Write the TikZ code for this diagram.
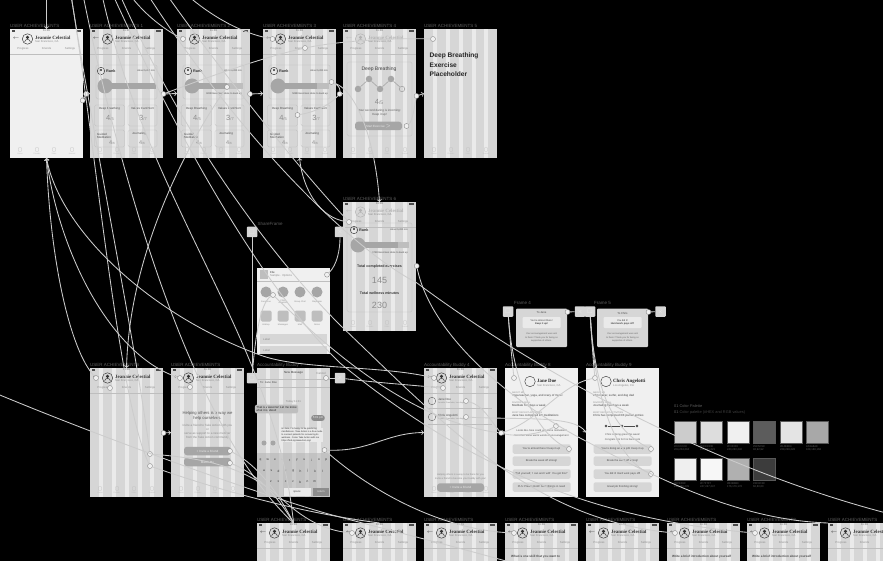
\documentclass[tikz,border=0pt]{standalone}
\usepackage{amssymb}
\usepackage{fontspec}
\setmainfont{Liberation Sans}
\newfontfamily\headfont{Liberation Serif}
\definecolor{wirecol}{HTML}{CCCCCC}
\definecolor{screencol}{HTML}{D6D6D6}
\definecolor{stripecol}{HTML}{EAEAEA}
\definecolor{plaincol}{HTML}{F0F0F0}
\definecolor{labelcol}{HTML}{5E5E5E}
\definecolor{txtcol}{HTML}{8C8C8C}
\definecolor{cardcol}{HTML}{BEBEBE}
\definecolor{darkcol}{HTML}{A6A6A6}
\tikzset{
	screen/.style={rectangle,anchor=north west,fill=screencol,minimum width=73pt,minimum height=129pt,inner sep=0pt,outer sep=0pt},
	framelabel/.style={anchor=south west,inner sep=0pt,text=labelcol,font=\fontsize{4.5}{5}\selectfont},
	tinytext/.style={inner sep=0pt,text=txtcol,font=\fontsize{2.8}{3.4}\selectfont,align=center},
	darktext/.style={inner sep=0pt,text=black!70,font=\fontsize{3}{3.9}\selectfont,align=left,anchor=west},
	valuetext/.style={inner sep=0pt,text=txtcol,font=\fontsize{7.5}{8}\selectfont},
	hottext/.style={inner sep=0pt,text=black!85,font=\headfont\bfseries\fontsize{4.9}{5}\selectfont,anchor=west},
	card/.style={rectangle,rounded corners=1.5pt,draw=cardcol,line width=.35pt},
	btn/.style={rectangle,rounded corners=3pt,fill=darkcol,inner sep=0pt,text=stripecol,font=\fontsize{3}{3.5}\selectfont,minimum width=47pt,minimum height=8.5pt},
	lightbtn/.style={rectangle,rounded corners=1.5pt,fill=screencol,inner sep=0pt,text=black!70,font=\fontsize{2.7}{3.2}\selectfont,minimum width=58pt,minimum height=9.5pt},
	hotspot/.style={circle,draw=gray,fill=plaincol,inner sep=0pt,minimum size=5pt,line width=.35pt},
	boxpt/.style={rectangle,rounded corners=.8pt,fill=screencol,inner sep=0pt,minimum size=10.5pt,text=stripecol,font=\fontsize{6}{6}\selectfont},
	wire/.style={draw=wirecol,line width=.85pt},
	swatch/.style={rectangle,anchor=north west,minimum size=21.5pt,inner sep=0pt,draw=gray!70!black,line width=.3pt},
	hexlabel/.style={anchor=north west,inner sep=0pt,text=labelcol,font=\fontsize{2.7}{3.4}\selectfont,align=left}
}
\newcommand{\hotpt}[3][]{\node[hotspot,#1] at (#2) (#3) {}}
\newcommand{\plainpt}[3]{\node[screen,fill=plaincol] at (#1) (#2) {}; \node[framelabel] at ([yshift=.8pt]#2.north west) (#2-label) {#3};}
\newcommand{\phonept}[3]{\node[screen] at (#1) (#2) {}; \node[framelabel] at ([yshift=.8pt]#2.north west) (#2-label) {#3}; \foreach \k in {9.3,22,35,48,60.3} {\fill[stripecol,shift={(#2.north west)}] (\k,0) rectangle +(3.5,129);}}
% status bar, header and tabs of one screen
\newcommand{\phonehead}[4][black!80]{
	\begin{scope}[shift={(#2.north west)}]
		\node[tinytext,text=black!60] (#2-time) at (36.5,2) {11:39};
		\fill[black!70] (66,1.2) rectangle (71,3);
		\fill[black!70] (1.5,1.2) rectangle (5,3);
		\node[inner sep=0pt,text=#1,font=\fontsize{5}{5}\selectfont] (#2-back) at (6,10) {$\leftarrow$};
		\node[circle,draw=#1,line width=.45pt,minimum size=10.5pt,inner sep=0pt] (#2-ava) at (17.5,10) {};
		\fill[#1] (17.5,8.4) circle (1.7pt);
		\draw[#1,line width=.45pt] (14.6,13.2) arc[start angle=180,end angle=0,radius=2.9pt];
		\node[hottext,text=#1] (#2-name) at (25,9) {#3};
		\node[tinytext,anchor=west] (#2-sub) at (25,13) {#4};
		\foreach \tx/\lab in {13/Progress,36.5/Friends,60/Settings} {
			\node[tinytext] (#2-\lab) at (\tx,19.5) {\lab};
		}
		\fill[cardcol] (0,24.6) rectangle (73,25.2);
	\end{scope}
}
\newcommand{\phonetabs}[1]{
	\begin{scope}[shift={(#1.north west)}]
		\foreach \tx/\lab in {10/Home,27/Friends,44/Stats,62/Journal} {
			\node[rectangle,draw=cardcol,rounded corners=.6pt,line width=.3pt,minimum size=3.6pt,inner sep=0pt] (#1-\lab-icon) at (\tx,120.5) {};
			\node[tinytext,text=cardcol,font=\fontsize{2}{2.4}\selectfont] (#1-\lab) at (\tx,125) {\lab};
		}
	\end{scope}
}
% rank card with progress bar, #1 is how far it sits above its usual place
\newcommand{\rankcard}[4][0pt]{
	\begin{scope}[shift={(#2.north west)},yshift=#1]
		\node[circle,draw=black!80,line width=.4pt,minimum size=7.5pt,inner sep=0pt] (#2-rankicon) at (11,42) {};
		\fill[black!80] (11,41) circle (1.2pt);
		\node[inner sep=0pt,anchor=west,text=black!80,font=\bfseries\fontsize{3.8}{4}\selectfont] (#2-rank) at (16,42) {Rank};
		\node[tinytext,anchor=east,text=black!70,font=\fontsize{2.4}{3}\selectfont] (#2-about) at (65,42) {About 5,200 min};
		\fill[cardcol] (8,54) rectangle (66,60);
		\fill[darkcol] (14,54) rectangle (#3,60);
		\fill[darkcol] (15,57) circle (7.5pt);
		\node[tinytext,text=black!70,font=\fontsize{2.5}{3}\selectfont] (#2-done) at (47,65) {#4};
	\end{scope}
}
% the four exercise tiles
\newcommand{\tilesrow}[1]{
	\begin{scope}[shift={(#1.north west)}]
		\draw[card] (6,36) rectangle (67,70);
		\draw[card] (4.5,76) rectangle (34.5,97);
		\draw[card] (38,76) rectangle (67,97);
		\draw[card] (4.5,101) rectangle (34.5,118);
		\draw[card] (38,101) rectangle (67,118);
		\node[tinytext,text=black!70,font=\fontsize{3}{3.6}\selectfont] (#1-t1) at (19.5,79.5) {Deep Breathing};
		\node[tinytext,text=black!70,font=\fontsize{3}{3.6}\selectfont] (#1-t2) at (52.5,79.5) {Values Card Sort};
		\node[valuetext] (#1-v1) at (20,88.5) {4{\fontsize{4}{4}\selectfont/5}};
		\node[valuetext] (#1-v2) at (53,88.5) {3{\fontsize{4}{4}\selectfont/7}};
		\node[tinytext,anchor=west,align=left,text=black!70,font=\fontsize{3}{3.6}\selectfont] (#1-t3) at (7,107) {Guided\\Meditation};
		\node[tinytext,text=black!70,font=\fontsize{3}{3.6}\selectfont] (#1-t4) at (49,105) {Journaling};
		\node[valuetext,font=\fontsize{5.5}{6}\selectfont] (#1-v3) at (22,114) {4{\fontsize{3}{3}\selectfont/6}};
		\node[valuetext,font=\fontsize{5.5}{6}\selectfont] (#1-v4) at (52,114) {4{\fontsize{3}{3}\selectfont/6}};
	\end{scope}
}
\begin{document}
\begin{tikzpicture}[x=1pt,y=-1pt]
	\useasboundingbox (0,0) rectangle (883,561);
	\clip (0,0) rectangle (883,561);
	\fill[black] (0,0) rectangle (883,561);

	% top row
	\plainpt{10,29}{ua0}{USER ACHIEVEMENTS}
	\phonept{90,29}{ua1}{USER ACHIEVEMENTS 1}
	\phonept{177,29}{ua2}{USER ACHIEVEMENTS 2}
	\phonept{263,29}{ua3}{USER ACHIEVEMENTS 3}
	\phonept{343,29}{ua4}{USER ACHIEVEMENTS 4}
	\phonept{424,29}{ua5}{USER ACHIEVEMENTS 5}
	\phonehead{ua0}{Jeannie Celestial}{San Francisco, CA}
	\phonehead{ua1}{Jeannie Celestial}{San Francisco, CA}
	\phonehead{ua2}{Jeannie Celestial}{San Francisco, CA}
	\phonehead{ua3}{Jeannie Celestial}{San Francisco, CA}
	\phonehead[black!30]{ua4}{Jeannie Celestial}{San Francisco, CA}
	\rankcard{ua1}{66}{}
	\rankcard{ua2}{50}{6238 Exercises done to level up}
	\rankcard{ua3}{54}{5288 Exercises done to level up}
	\tilesrow{ua1} \tilesrow{ua2} \tilesrow{ua3}
	\foreach \s in {ua0,ua1,ua2,ua3,ua4,ua5} {\phonetabs{\s}}

	\begin{scope}[shift={(ua4.north west)}]
		\draw[card] (4,33) rectangle (69,107);
		\node[inner sep=0pt,text=black!75,font=\fontsize{5}{6}\selectfont] (ua4-title) at (36,40) {Deep Breathing};
		\node[circle,fill=darkcol,inner sep=0pt,minimum size=6.5pt] (ua4-c1) at (15,60) {};
		\node[circle,fill=darkcol,inner sep=0pt,minimum size=6.5pt] (ua4-c2) at (26,50) {};
		\node[circle,fill=darkcol,inner sep=0pt,minimum size=6.5pt] (ua4-c3) at (37,60) {};
		\node[circle,fill=darkcol,inner sep=0pt,minimum size=6.5pt] (ua4-c4) at (48,50) {};
		\node[circle,draw=darkcol,inner sep=0pt,minimum size=5.5pt,line width=.6pt] (ua4-c5) at (59,60) {};
		\draw[darkcol,line width=.6pt] (ua4-c1) -- (ua4-c2);
		\draw[darkcol,line width=.6pt] (ua4-c2) -- (ua4-c3);
		\draw[darkcol,line width=.6pt] (ua4-c3) -- (ua4-c4);
		\draw[darkcol,line width=.6pt] (ua4-c4) -- (ua4-c5);
		\node[valuetext] (ua4-val) at (36,73) {4{\fontsize{5}{5}\selectfont/5}};
		\node[tinytext,text=black!65,font=\fontsize{3}{4.4}\selectfont] (ua4-say) at (36.5,84) {Your second daring is incoming:\\Keep it up!};
		\node[btn] (ua4-start) at (35.5,97) {Start Exercise $>$};
	\end{scope}
	\begin{scope}[shift={(ua5.north west)}]
		\node[inner sep=0pt,anchor=north west,align=left,text=black!85,font=\bfseries\fontsize{6.6}{9.3}\selectfont] (ua5-title) at (5.5,24) {Deep Breathing\\Exercise\\Placeholder};
	\end{scope}

	% share frame and achievements 6
	\phonept{343,202}{ua6}{USER ACHIEVEMENTS 6}
	\phonehead[black!30]{ua6}{Jeannie Celestial}{San Francisco, CA}
	\begin{scope}[shift={(ua6.north west)}]
		\draw[card] (4,21) rectangle (69,110);
	\end{scope}
	\rankcard[14pt]{ua6}{55}{1783 Exercises done to level up}
	\phonetabs{ua6}
	\begin{scope}[shift={(ua6.north west)}]
		\node[inner sep=0pt,text=black!80,font=\bfseries\fontsize{3.6}{4}\selectfont] (ua6-t1) at (36.5,65) {Total completed exercises};
		\node[valuetext,font=\fontsize{9}{9}\selectfont] (ua6-v1) at (36.5,78) {145};
		\node[inner sep=0pt,text=black!80,font=\bfseries\fontsize{3.6}{4}\selectfont] (ua6-t2) at (36.5,91) {Total wellness minutes};
		\node[valuetext,font=\fontsize{9}{9}\selectfont] (ua6-v2) at (36.5,103) {230};
	\end{scope}

	\node[screen,fill=plaincol,minimum height=86pt] at (257,268) (sheet) {};
	\node[framelabel] at (257.5,226) (sf-label) {ShareFrame};
	\node[boxpt] at (252,232) (sfbox) {$\square$};
	\node[boxpt] at (340,232) (sfclose) {$\times$};
	\begin{scope}[shift={(sheet.north west)}]
		\fill[cardcol] (3,2) rectangle (11,11);
		\node[tinytext,anchor=west,text=black!80] (sheet-file) at (13,4) {File};
		\node[tinytext,anchor=west] (sheet-opt) at (13,8) {Sample . Options};
		\fill[cardcol] (0,13.5) rectangle (73,14);
		\foreach \cx/\lab in {9/Jane Doe,26/Chris Angelotti,43/Group Chat,60/Stephanie} {
			\node[circle,fill=darkcol,inner sep=0pt,minimum size=11pt] (sheet-\cx) at (\cx,24) {};
			\node[tinytext,font=\fontsize{2.2}{2.6}\selectfont,text width=12pt] (sheet-l\cx) at (\cx,34) {\lab};
		}
		\foreach \cx/\lab in {9/Airdrop,26/Messages,43/Mail,60/Notes} {
			\node[rectangle,rounded corners=1.5pt,fill=cardcol,inner sep=0pt,minimum size=11pt] (sheet-a\cx) at (\cx,48) {};
			\node[tinytext,font=\fontsize{2.2}{2.6}\selectfont] (sheet-b\cx) at (\cx,57) {\lab};
		}
		\fill[screencol] (3,66) rectangle (70,76);
		\fill[screencol] (3,78) rectangle (70,86);
		\node[tinytext,anchor=west] (sheet-r1) at (6,71) {Label};
		\node[tinytext,anchor=west] (sheet-r2) at (6,82) {Label};
	\end{scope}

	% middle row
	\phonept{90,368}{bud1}{USER ACHIEVEMENTS}
	\phonept{171,368}{bud2}{USER ACHIEVEMENTS}
	\phonept{257,368}{ab7}{Accountability Buddy 7}
	\phonept{424,368}{ab4}{Accountability Buddy 4}
	\plainpt{505,368}{ab8}{Accountability Buddy 8}
	\plainpt{586,368}{ab9}{Accountability Buddy 9}
	\phonehead{bud1}{Jeannie Celestial}{San Francisco, CA}
	\phonehead{bud2}{Jeannie Celestial}{San Francisco, CA}
	\phonehead{ab4}{Jeannie Celestial}{San Francisco, CA}
	\foreach \s in {bud1,bud2,ab4} {\phonetabs{\s}}
	\begin{scope}[shift={(bud2.north west)}]
		\node[tinytext,text=black!65,font=\fontsize{4.2}{5}\selectfont] (bud2-help) at (36.5,48) {Helping others is a way we\\help ourselves.};
		\node[tinytext,font=\fontsize{3}{3.9}\selectfont] (bud2-inv) at (36.5,64) {Invite a friend to Take Action with you\\or\\serve as support to a new member\\from the Take Action community};
		\node[btn] (bud2-b1) at (36.5,83) {+ Invite a Friend};
		\node[btn] (bud2-b2) at (36.5,94) {Match Me};
	\end{scope}

	\begin{scope}[shift={(ab7.north west)}]
		\node[tinytext,text=black!75,font=\fontsize{3}{3.4}\selectfont] (ab7-new) at (36.5,5) {New Message};
		\node[tinytext,font=\fontsize{3}{3.4}\selectfont] (ab7-cancel) at (64,5) {Cancel};
		\node[tinytext,anchor=west,text=black!70] (ab7-to) at (3,15) {To: Jane Doe};
		\fill[cardcol] (0,11) rectangle (73,11.3);
		\fill[cardcol] (0,19) rectangle (73,19.3);
		\node[tinytext] (ab7-date) at (36.5,34) {Today 11:41};
		\node[rectangle,rounded corners=2pt,fill=cardcol,inner sep=1.4pt,text=black!85,font=\fontsize{2.9}{3.7}\selectfont,align=left] (ab7-b1) at (19.5,41) {That is awesome! Let me know\\what it is about!};
		\node[rectangle,rounded corners=2.5pt,fill=black!45,inner sep=1.5pt,text=stripecol,font=\fontsize{2.9}{3.6}\selectfont] (ab7-b2) at (61,50) {5:01 pm};
		\node[rectangle,fill=stripecol,inner sep=.5pt,text=black!80,font=\fontsize{2.3}{2.9}\selectfont,align=left] (ab7-long) at (45,67) {Hi Jane, I'm happy to be practicing\\mindfulness. Take Action is a free mode\\to connect patients for recovering its\\wellness. Come Take Action with me\\https://find.mytakeaction.org/};
		\node[circle,fill=black!35,inner sep=0pt,minimum size=5pt] (ab7-cam) at (7,75) {};
		\node[circle,fill=black!35,inner sep=0pt,minimum size=5pt] (ab7-app) at (16,75) {};
		\fill[black!30,opacity=.55] (0,85) rectangle (73,129);
		\foreach \ch [count=\n] in {q,w,e,r,t,y,u,i,o,p} {
			\node[tinytext,text=black!80,font=\fontsize{3.2}{3.4}\selectfont] (key1\ch) at ({3.5+(\n-1)*7.3},92) {\ch};
		}
		\foreach \ch [count=\n] in {a,s,d,f,g,h,j,k,l} {
			\node[tinytext,text=black!80,font=\fontsize{3.2}{3.4}\selectfont] (key2\ch) at ({7+(\n-1)*7.3},103) {\ch};
		}
		\foreach \ch [count=\n] in {z,x,c,v,b,n,m} {
			\node[tinytext,text=black!80,font=\fontsize{3.2}{3.4}\selectfont] (key3\ch) at ({14+(\n-1)*7.3},114) {\ch};
		}
		\node[rectangle,fill=stripecol,inner sep=0pt,minimum width=27pt,minimum height=7.5pt,text=black!70,font=\fontsize{2.8}{3}\selectfont] (key-space) at (40,124) {space};
		\node[rectangle,fill=black!45,inner sep=0pt,minimum width=16pt,minimum height=7.5pt,text=stripecol,font=\fontsize{2.8}{3}\selectfont] (key-return) at (64,124) {return};
	\end{scope}

	\begin{scope}[shift={(ab4.north west)}]
		\foreach \ty/\who/\nm in {33/Jane Doe/jd,49/Chris Angelotti/ca} {
			\node[circle,draw=black!60,line width=.4pt,minimum size=7.5pt,inner sep=0pt] (ab4-\nm-ava) at (8,\ty) {};
			\node[tinytext,anchor=west,text=black!70,font=\fontsize{3}{3.4}\selectfont] (ab4-\nm) at (14,{\ty-1.5}) {\who};
			\node[tinytext,anchor=west,font=\fontsize{2}{2.4}\selectfont] (ab4-\nm-sub) at (14,{\ty+1.5}) {Jennifer Granholm, Los Angeles};
			\fill[cardcol] (4,{\ty+7}) rectangle (68,{\ty+7.4});
		}
		\node[tinytext,font=\fontsize{2.5}{3.3}\selectfont] (ab4-help) at (36.5,109) {Helping others is a way to be there for you\\Invite a friend to become your buddy with you!};
		\node[btn] (ab4-inv) at (36.5,119.5) {+ Invite a Friend};
	\end{scope}

	\begin{scope}[shift={(ab8.north west)}]
		\node[circle,draw=black!75,line width=.45pt,minimum size=10.5pt,inner sep=0pt] (ab8-ava) at (25,13.5) {};
		\node[hottext] (ab8-name) at (32,13) {Jane Doe};
		\node[tinytext,anchor=west] (ab8-sub) at (32,17.5) {San Francisco, CA};
		\foreach \ty/\hd/\bd/\nm in {26/ABOUT ME/{Yoga teacher, yoga, and crazy of music}/a,36/FAVORITE SKILL/{Meditate five days a week}/b,46/MOST RECENT ACTIVITIES/{Jane has completed 1/5 meditations}/c} {
			\node[tinytext,anchor=west,font=\fontsize{2.3}{2.6}\selectfont] (ab8-h\nm) at (7,{\ty-1.5}) {\hd};
			\node[tinytext,anchor=west,text=black!75,font=\fontsize{2.9}{3.3}\selectfont] (ab8-b\nm) at (7,{\ty+1.7}) {\bd};
		}
		\node[tinytext,text=black!65,font=\fontsize{2.6}{4.8}\selectfont] (ab8-look) at (36.5,65) {Looks like Jane could use some motivation!\\Send her some warm words of encouragement};
		\foreach \ty/\msg/\nm in {81/{You're almost there! Keep it up!}/a,93/{Break the week off strong!}/b,106/{"Tell yourself, 'I can and I will!' You got this!"}/c,119/{PLS: Please Hold! Something's in need}/d} {
			\node[lightbtn] (ab8-m\nm) at (36.5,\ty) {\msg};
		}
	\end{scope}

	\begin{scope}[shift={(ab9.north west)}]
		\node[circle,draw=black!75,line width=.45pt,minimum size=10.5pt,inner sep=0pt] (ab9-ava) at (20,13.5) {};
		\node[hottext] (ab9-name) at (27,13) {Chris Angelotti};
		\node[tinytext,anchor=west] (ab9-sub) at (27,17.5) {Los Angeles, CA};
		\foreach \ty/\hd/\bd/\nm in {26/ABOUT ME/{Film maker, surfer, and dog dad}/a,36/FAVORITE SKILL/{Journaling five days a week}/b,46/MOST RECENT ACTIVITIES/{Chris has completed 3/3 journal entries}/c} {
			\node[tinytext,anchor=west,font=\fontsize{2.3}{2.6}\selectfont] (ab9-h\nm) at (7,{\ty-1.5}) {\hd};
			\node[tinytext,anchor=west,text=black!75,font=\fontsize{2.9}{3.3}\selectfont] (ab9-b\nm) at (7,{\ty+1.7}) {\bd};
		}
		\node[circle,fill=black!70,inner sep=0pt,minimum size=2.8pt] (ab9-d1) at (20,58) {};
		\node[circle,fill=black!70,inner sep=0pt,minimum size=2.8pt] (ab9-d2) at (36,58) {};
		\node[circle,fill=black!70,inner sep=0pt,minimum size=2.8pt] (ab9-d3) at (51,58) {};
		\draw[black!70,line width=.4pt] (ab9-d1) -- (ab9-d2);
		\draw[black!70,line width=.4pt] (ab9-d2) -- (ab9-d3);
		\node[tinytext,text=black!65,font=\fontsize{2.6}{4.8}\selectfont] (ab9-look) at (36.5,69) {Chris is doing great this week!\\Congrats him for his hard work};
		\foreach \ty/\msg/\nm in {81/{You're doing an ace job! Keep it up}/a,93/{Break the week off strong!}/b,106/{You did it! Hard work pays off!}/c,119/{Great job finishing strong!}/d} {
			\node[lightbtn] (ab9-m\nm) at (36.5,\ty) {\msg};
		}
	\end{scope}

	% frames 4 and 5
	\node[framelabel] at (514,305) (f4-label) {Frame 4};
	\node[framelabel] at (594,305) (f5-label) {Frame 5};
	\foreach \f/\fx/\who/\la/\lb in {f4/516/To Jane/You're almost there!/Keep it up!,f5/597/To Chris/You did it!/Hard work pays off!} {
		\node[screen,rectangle,rounded corners=1pt,minimum width=51pt,minimum height=38.5pt] at (\fx,308.5) (\f) {};
		\begin{scope}[shift={(\f.north west)}]
			\node[tinytext,text=black!70] (\f-to) at (25.5,4.5) {\who};
			\node[rectangle,rounded corners=1pt,fill=stripecol,inner sep=0pt,minimum width=38pt,minimum height=11pt,text=black!75,font=\fontsize{2.5}{3.6}\selectfont,align=center] (\f-msg) at (25.5,14) {\la\\\textbf{\lb}};
			\node[tinytext,text=black!60,font=\fontsize{2.3}{3.3}\selectfont] (\f-note) at (25.5,29) {Your encouragement was sent\\to them! Thank you for being so\\supportive of others.};
		\end{scope}
	}
	\node[boxpt] at (508,311.5) (f4open) {$\square$};
	\node[boxpt] at (580,311.5) (f4close) {$\times$};
	\node[boxpt] at (590,311.5) (f5open) {$\square$};
	\node[boxpt] at (660.5,311.5) (f5close) {$\times$};
	\node[boxpt] at (252,378) (ab7open) {$\square$};
	\node[boxpt] at (340,378) (ab7close) {$\times$};

	% colour palette
	\node[anchor=west,inner sep=0pt,text=labelcol,font=\fontsize{3.9}{4}\selectfont] at (674,406) (pal-title) {01 Color Palette};
	\node[anchor=west,inner sep=0pt,text=black!75,font=\fontsize{3.9}{4}\selectfont] at (674,412) (pal-sub) {\textcolor{labelcol}{01} Color palette (\#HEX and RGB values)};
	\foreach \sx/\sy/\hex/\rgb in {674/421/CCCCCC/{204,204,204},700/421/DDDDDD/{221,221,221},727/421/F0F0F0/{240,240,240},753/421/5C5C5C/{92,92,92},780/421/E4E4E4/{228,228,228},806/421/A8A8A8/{168,168,168},674/458/EFEFEF/{239,239,239},700/458/F7F7F7/{247,247,247},727/458/B0B0B0/{176,176,176},753/458/3C3C3C/{60,60,60}} {
		\definecolor{swcol}{HTML}{\hex}
		\node[swatch,fill=swcol] at (\sx,\sy) (sw\hex) {};
		\node[hexlabel] at ([yshift=-2.5pt]sw\hex.south west) (sl\hex) {\#\hex\\\rgb};
	}

	% bottom row
	\foreach \s/\sx in {rw1/257,rw2/343,rw3/424,rw4/505,rw5/586,rw6/667,rw7/747,rw8/828} {
		\phonept{\sx,523}{\s}{USER ACHIEVEMENTS}
		\phonehead{\s}{Jeannie Celestial}{San Francisco, CA}
	}
	\node[darktext,font=\bfseries\fontsize{3.1}{3.6}\selectfont] at (511,557) (rw4-ask) {What is one skill that you want to};
	\node[darktext,font=\bfseries\fontsize{3.1}{3.6}\selectfont] at (672,557) (rw6-ask) {Write a brief introduction about yourself};
	\node[darktext,font=\bfseries\fontsize{3.1}{3.6}\selectfont] at (752,557) (rw7-ask) {Write a brief introduction about yourself};

	% hotspots
	\hotpt{82.7,100.5}{hsua0};
	\hotpt{86,94}{hsua0b};
	\hotpt{163.5,94}{hsua1};
	\hotpt{183,39}{hsua2b};
	\hotpt{250,94}{hsua2};
	\hotpt{227,87}{hsua2x};
	\hotpt{272.5,39}{hsua3b};
	\hotpt{305,48}{hsua3t};
	\hotpt{331.5,82}{hsua3r};
	\hotpt{297.5,115}{hsua3v};
	\hotpt{339.5,94}{hsua3n};
	\hotpt{416.5,96}{hsua4};
	\hotpt{406.5,126}{hsua4s};
	\hotpt{433,39}{hsua5};
	\hotpt{349,222}{hsua6b};
	\hotpt{416.7,266}{hsua6};
	\hotpt{327,274.7}{hssheet};
	\hotpt{273,295}{hsjane};
	\hotpt{96,378}{hsb1b};
	\hotpt{110,388}{hsb1t};
	\hotpt{150,454}{hsb1a};
	\hotpt{150,466}{hsb1c};
	\hotpt{163.5,433}{hsb1r};
	\hotpt{180,378}{hsb2b};
	\hotpt{190,387}{hsb2t};
	\hotpt{230,451}{hsb2a};
	\hotpt{230,463}{hsb2c};
	\hotpt{326,378}{hsab7c};
	\hotpt{324.5,450}{hsab7s};
	\hotpt{434,378}{hsab4b};
	\hotpt{443,388}{hsab4t};
	\hotpt{466,401}{hsab4j};
	\hotpt{466,417}{hsab4c};
	\hotpt{501,433}{hsab4r};
	\hotpt{514,378}{hsab8b};
	\hotpt{556,426}{hsab8s};
	\hotpt{569,449}{hsab8m};
	\hotpt{595,378}{hsab9b};
	\hotpt{651,449}{hsab9m};
	\hotpt{651,474}{hsab9n};
	\hotpt{567.5,312}{hsf4};
	\hotpt{648.5,312}{hsf5};
	\hotpt{352,533}{hsrw2};
	\hotpt{514,533}{hsrw4};
	\hotpt{675,533}{hsrw6};
	\hotpt{755,533}{hsrw7};

	\coordinate (top71) at (71,-5);
	\coordinate (top83) at (83,-5);
	\coordinate (top102) at (102,-5);
	\coordinate (top113) at (113,-5);
	\coordinate (top120) at (120,-5);
	\coordinate (top130) at (130,-5);
	\coordinate (top148) at (148,-5);
	\coordinate (top167) at (167,-5);
	\coordinate (top187) at (187,-5);
	\coordinate (left395) at (-5,393);
	\coordinate (right512) at (890,514);
	\coordinate (low503) at (520,565);
	\coordinate (top46) at (46.5,-5);

	% connectors from the top edge
	\draw[wire,->] (top46) -- (ua0.north);
	\draw[wire] (top71) .. controls (95,140) and (118,400) .. (hsb1c);
	\draw[wire] (top71) .. controls (92,130) and (135,340) .. (hsb1a);
	\draw[wire,->] (top83) .. controls (111,133) and (181,418) .. (rw1.north);
	\draw[wire] (top102) .. controls (150,210) and (275,340) .. (rw1.north);
	\draw[wire] (top113) .. controls (170,120) and (255,280) .. (340,363) .. controls (470,470) and (600,520) .. (hsrw7);
	\draw[wire] (top120) .. controls (180,130) and (265,250) .. (340,325) .. controls (440,420) and (530,520) .. (hsrw6);
	\draw[wire] (top130) .. controls (145,15) and (165,30) .. (hsua2b);
	\draw[wire] (top148) .. controls (235,130) and (345,245) .. (417,283) .. controls (520,360) and (700,465) .. (right512);
	\draw[wire] (top167) .. controls (220,70) and (300,170) .. (hsua6b);
	\draw[wire] (top187) .. controls (210,15) and (240,33) .. (hsua3b);

	% connectors of the top row
	\draw[wire,->] (hsua0) -- (hsua0b);
	\draw[wire,->] (hsua0b) -- (ua1.west);
	\draw[wire,->] (hsua1) -- (ua2.west);
	\draw[wire,->] (hsua2) -- (ua3.west);
	\draw[wire,->] (hsua3n) -- (ua4.west);
	\draw[wire,->] (hsua4) -- (ua5.west);
	\draw[wire] (hsua3r) .. controls (340,86) and (340,90) .. (hsua3n);
	\draw[wire] (hsua3v) .. controls (315,112) and (330,105) .. (hsua3n);
	\draw[wire] (hsua3t) .. controls (345,40) and (400,38) .. (hsua5);
	\draw[wire] (hsua1) .. controls (200,80) and (260,58) .. (hsua3t);
	\draw[wire] (hsua4s) .. controls (412,122) and (414,110) .. (hsua4);
	\draw[wire,->] (hsua3r) .. controls (360,92) and (376,150) .. (ua6.north);
	\draw[wire,->] (hsua6b) .. controls (320,218) and (303,190) .. (ua3.south);
	\draw[wire,->] (hsua2x) .. controls (200,125) and (130,240) .. (bud1.north);

	% connectors into the first screen
	\draw[wire,<-] (ua0.south) .. controls (60,230) and (150,315) .. (260,355) .. controls (300,370) and (380,365) .. (hsab4b);
	\draw[wire,<-] (ua0.south) .. controls (58,250) and (110,355) .. (hsb2b);
	\draw[wire,<-] (ua0.south) .. controls (50,260) and (70,350) .. (hsb1b);

	% long lines at the lower left
	\draw[wire] (left395) .. controls (120,445) and (290,505) .. (340,517) .. controls (380,528) and (450,545) .. (low503);
	\draw[wire] (hsb1a) .. controls (200,458) and (245,465) .. (283,500) .. controls (300,515) and (320,530) .. (hsrw2);
	\draw[wire] (hsb1c) .. controls (190,480) and (280,510) .. (rw2.north);
	\draw[wire] (hsb2a) .. controls (258,465) and (280,495) .. (rw1.north);
	\draw[wire] (hsb2c) .. controls (260,475) and (280,500) .. (rw1.north);
	\draw[wire,->] (hsb1r) -- (bud2.west);

	% share frame and messages
	\draw[wire] (sfbox) -- (ab7open);
	\draw[wire] (hsjane) .. controls (260,303) and (255,340) .. (ab7open);
	\draw[wire] (hssheet) .. controls (337,265) and (340,250) .. (sfclose);
	\draw[wire] (hsjane) .. controls (310,330) and (400,420) .. (hsab4r);
	\draw[wire] (hsab7c) -- (ab7close);
	\draw[wire] (ab7close) .. controls (370,382) and (410,385) .. (hsab4t);
	\draw[wire,->] (hsab7s) .. controls (370,452) and (385,433) .. (ab4.west);
	\draw[wire] (hsab7s) .. controls (370,490) and (440,530) .. (hsrw4);

	% buddy screens
	\draw[wire] (hsab4j) .. controls (483,405) and (490,420) .. (hsab4r);
	\draw[wire,->] (hsab4c) .. controls (520,420) and (575,415) .. (ab9.west);
	\draw[wire,->] (hsab4r) -- (ab8.west);
	\draw[wire] (hsab4r) .. controls (520,438) and (545,432) .. (hsab8s);
	\draw[wire] (hsab9b) .. controls (560,385) and (540,420) .. (hsab4r);
	\draw[wire] (f4open) .. controls (510,340) and (512,360) .. (hsab8b);
	\draw[wire] (f4open) .. controls (512,370) and (530,430) .. (hsab8m);
	\draw[wire] (f5open) .. controls (592,340) and (593,360) .. (hsab9b);
	\draw[wire] (f5open) .. controls (595,390) and (612,430) .. (hsab9m);
	\draw[wire] (f5open) .. controls (595,410) and (620,460) .. (hsab9n);
	\draw[wire] (hsf4) -- (f4close);
	\draw[wire] (hsf5) -- (f5close);

	% the lower right lines
	\draw[wire] (hsua6) .. controls (430,330) and (500,395) .. (580,438) .. controls (660,480) and (740,520) .. (rw8.north west);
\end{tikzpicture}
\end{document}
